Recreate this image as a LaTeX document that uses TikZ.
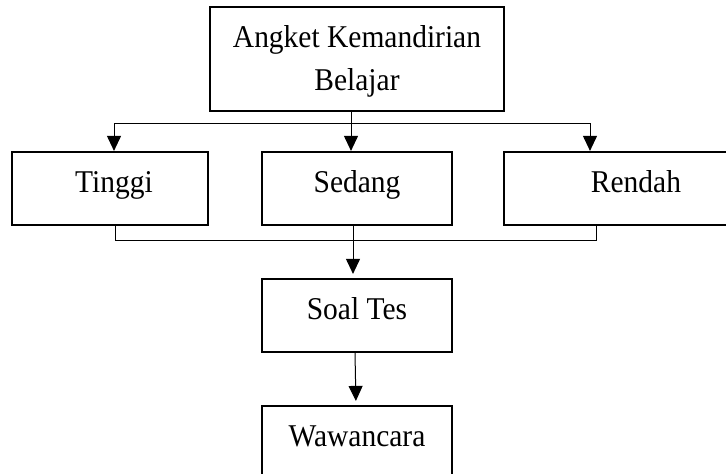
\documentclass[tikz,border=0pt]{standalone}
\usepackage{fontspec}
\setmainfont{Liberation Serif}[FakeStretch=0.93]
\usetikzlibrary{arrows.meta}
\begin{document}
\begin{tikzpicture}[x=1pt,y=-1pt,
  box/.style={draw,line width=2.2pt,rectangle,inner sep=0pt,
    minimum height=73pt,text height=20pt,text depth=13pt,
    font=\fontsize{31.7}{43}\selectfont},
  link/.style={line width=1pt},
  arr/.style={link,-{Triangle[width=14pt,length=15pt]}}]
\clip (0,0) rectangle (726,474);
\fill[white] (0,0) rectangle (726,474);

% boxes
\node[box,minimum width=294pt,minimum height=104pt,align=center,
  text height=,text depth=] (top) at (357,59)
  {\rule{0pt}{27pt}Angket Kemandirian\\Belajar};
\node[box,minimum width=196pt] (tinggi) at (110,188.5) {\hspace*{8pt}Tinggi};
\node[box,minimum width=190pt] (sedang) at (357,188.5) {Sedang};
\node[box,minimum width=400pt] (rendah) at (704,188.5) {Rendah\hspace*{136pt}};
\node[box,minimum width=190pt] (soal) at (357,315.5) {Soal Tes};
\node[box,minimum width=190pt] (wawancara) at (357,442.5) {Wawancara};

% branching from the questionnaire
\coordinate (jl) at (114,123);
\coordinate (jm) at (351,123);
\coordinate (jr) at (590,123);
\draw[link] (jl) -- (jr);
\draw[link] (top.south -| jm) -- (jm);
\draw[arr] (jl) -- (jl |- tinggi.north);
\draw[arr] (jm) -- (jm |- sedang.north);
\draw[arr] (jr) -- (jr |- rendah.north);

% joining the three levels
\coordinate (kl) at (115,240);
\coordinate (km) at (353,240);
\coordinate (kr) at (596,240);
\draw[link] (tinggi.south -| kl) -- (kl) -- (kr) -- (rendah.south -| kr);
\draw[link] (sedang.south -| km) -- (km);
\draw[arr,shorten >=4pt] (km) -- (km |- soal.north);

% test to interview
\coordinate (s1) at (355,352);
\coordinate (s2) at (356,406);
\draw[arr,shorten >=4pt] (soal.south -| s1) -- (s2 |- wawancara.north);
\end{tikzpicture}
\end{document}
